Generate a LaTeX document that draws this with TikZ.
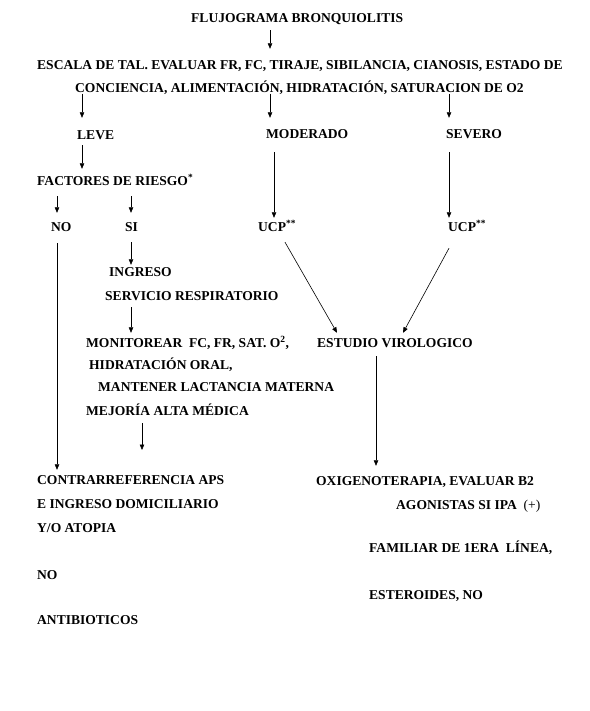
\documentclass[tikz,border=0pt]{standalone}
\usepackage{fontspec}
\setmainfont{Liberation Serif}
\usetikzlibrary{arrows.meta}

\begin{document}
\begin{tikzpicture}[x=1pt,y=-1pt,
  txt/.style={anchor=west,inner sep=0pt,text height=9pt,text depth=0pt,
    font=\fontsize{13.55}{16}\selectfont\bfseries},
  arr/.style={-{Triangle[length=5.5pt,width=4.5pt]},line width=0.6pt}]
  \useasboundingbox (0,0) rectangle (589,711);
  \node[txt] (title) at (191,18) {FLUJOGRAMA BRONQUIOLITIS};
  \node[txt] (esca1) at (37,65) {ESCALA DE TAL. EVALUAR FR, FC, TIRAJE, SIBILANCIA, CIANOSIS, ESTADO DE};
  \node[txt] (esca2) at (75,88) {CONCIENCIA, ALIMENTACIÓN, HIDRATACIÓN, SATURACION DE O2};
  \node[txt] (leve) at (77,135) {LEVE};
  \node[txt] (mod) at (266,134) {MODERADO};
  \node[txt] (sev) at (446,134) {SEVERO};
  \node[txt] (fact) at (37,181) {FACTORES DE RIESGO\textsuperscript{*}};
  \node[txt] (no) at (51,227) {NO};
  \node[txt] (si) at (125,227) {SI};
  \node[txt] (ucpa) at (258,227) {UCP\textsuperscript{**}};
  \node[txt] (ucpb) at (448,227) {UCP\textsuperscript{**}};
  \node[txt] (ingreso) at (109,272) {INGRESO};
  \node[txt] (servicio) at (105,296) {SERVICIO RESPIRATORIO};
  \node[txt] (monit) at (86,343) {MONITOREAR\ \ FC, FR, SAT. O\textsuperscript{2},};
  \node[txt] (estudio) at (317,343) {ESTUDIO VIROLOGICO};
  \node[txt] (hidra) at (89,365) {HIDRATACIÓN ORAL,};
  \node[txt] (mant) at (98,387) {MANTENER LACTANCIA MATERNA};
  \node[txt] (mejoria) at (86,411) {MEJORÍA ALTA MÉDICA};
  \node[txt] (contra) at (37,480) {CONTRARREFERENCIA APS};
  \node[txt] (eing) at (37,504) {E INGRESO DOMICILIARIO};
  \node[txt] (atopia) at (37,528) {Y/O ATOPIA};
  \node[txt] (nob) at (37,575) {NO};
  \node[txt] (antib) at (37,620) {ANTIBIOTICOS};
  \node[txt] (oxi) at (316,481) {OXIGENOTERAPIA, EVALUAR B2};
  \node[txt] (agon) at (396,505) {AGONISTAS SI IPA\ \ \textmd{(+)}};
  \node[txt] (famil) at (369,548) {FAMILIAR DE 1ERA\ \ LÍNEA,};
  \node[txt] (ester) at (369,595) {ESTEROIDES, NO};
  \coordinate (mejend) at (142,450);

  \draw[arr] ([xshift=79pt,yshift=-7.5pt]title.south west) -- ([xshift=233pt,yshift=11.5pt]esca1.north west);
  \draw[arr] ([xshift=7pt,yshift=-1pt]esca2.south west) -- ([xshift=5pt,yshift=12.5pt]leve.north west);
  \draw[arr] ([xshift=195pt,yshift=-1pt]esca2.south west) -- ([xshift=4pt,yshift=11.5pt]mod.north west);
  \draw[arr] ([xshift=374pt,yshift=-1pt]esca2.south west) -- ([xshift=3pt,yshift=11.5pt]sev.north west);
  \draw[arr] ([xshift=5pt,yshift=-5.5pt]leve.south west) -- ([xshift=45pt,yshift=7.5pt]fact.north west);
  \draw[arr] ([xshift=20pt,yshift=-10.5pt]fact.south west) -- ([xshift=6pt,yshift=9.5pt]no.north west);
  \draw[arr] ([xshift=94pt,yshift=-10.5pt]fact.south west) -- ([xshift=6pt,yshift=9.5pt]si.north west);
  \draw[arr] ([xshift=8pt,yshift=-13.5pt]mod.south west) -- ([xshift=16pt,yshift=4.5pt]ucpa.north west);
  \draw[arr] ([xshift=3pt,yshift=-13.5pt]sev.south west) -- ([xshift=1pt,yshift=4.5pt]ucpb.north west);
  \draw[arr] ([xshift=6pt,yshift=-11.5pt]no.south west) -- ([xshift=20pt,yshift=5.5pt]contra.north west);
  \draw[arr] ([xshift=6pt,yshift=-10.5pt]si.south west) -- ([xshift=22pt,yshift=2.5pt]ingreso.north west);
  \draw[arr] ([xshift=26pt,yshift=-6.5pt]servicio.south west) -- ([xshift=45pt,yshift=5.5pt]monit.north west);
  \draw[arr] ([xshift=27pt,yshift=-10.5pt]ucpa.south west) -- ([xshift=20pt,yshift=5.5pt]estudio.north west);
  \draw[arr] ([xshift=1pt,yshift=-16.5pt]ucpb.south west) -- ([xshift=86pt,yshift=5.5pt]estudio.north west);
  \draw[arr] ([xshift=56pt,yshift=-7.5pt]mejoria.south west) -- (mejend);
  \draw[arr] ([xshift=59pt,yshift=-8.5pt]estudio.south west) -- ([xshift=60pt,yshift=10.5pt]oxi.north west);
\end{tikzpicture}
\end{document}
